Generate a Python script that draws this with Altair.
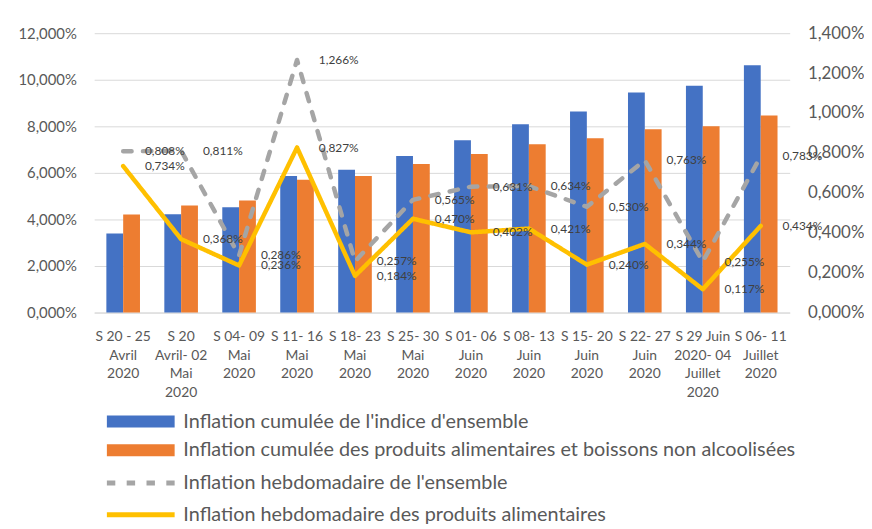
import altair as alt
import pandas as pd

weeks = [
    "S 20 - 25\nAvril\n2020",
    "S 20\nAvril- 02\nMai\n2020",
    "S 04- 09\nMai\n2020",
    "S 11- 16\nMai\n2020",
    "S 18- 23\nMai\n2020",
    "S 25- 30\nMai\n2020",
    "S 01- 06\nJuin\n2020",
    "S 08- 13\nJuin\n2020",
    "S 15- 20\nJuin\n2020",
    "S 22- 27\nJuin\n2020",
    "S 29 Juin\n2020- 04\nJuillet\n2020",
    "S 06- 11\nJuillet\n2020",
]
cum_all = [3.40, 4.22, 4.52, 5.87, 6.13, 6.72, 7.40, 8.09, 8.64, 9.45, 9.74, 10.62]
cum_food = [4.21, 4.60, 4.81, 5.70, 5.87, 6.38, 6.81, 7.23, 7.49, 7.87, 8.00, 8.47]
week_all = [0.808, 0.811, 0.286, 1.266, 0.257, 0.565, 0.631, 0.634, 0.530, 0.763, 0.255, 0.783]
week_food = [0.734, 0.368, 0.236, 0.827, 0.184, 0.470, 0.402, 0.421, 0.240, 0.344, 0.117, 0.434]

s1 = "Inflation cumulée de l'indice d'ensemble"
s2 = "Inflation cumulée des produits alimentaires et boissons non alcoolisées"
s3 = "Inflation hebdomadaire de l'ensemble"
s4 = "Inflation hebdomadaire des produits alimentaires"

left_ticks = [0, 2, 4, 6, 8, 10, 12]
right_ticks = [0, 0.2, 0.4, 0.6, 0.8, 1.0, 1.2, 1.4]

bars_df = pd.DataFrame(
    [{"week": w, "series": s1, "value": v} for w, v in zip(weeks, cum_all)]
    + [{"week": w, "series": s2, "value": v} for w, v in zip(weeks, cum_food)]
)
lines_df = pd.DataFrame(
    [{"week": w, "series": s3, "value": v} for w, v in zip(weeks, week_all)]
    + [{"week": w, "series": s4, "value": v} for w, v in zip(weeks, week_food)]
)

FONT = "Lato"
GREY = "#595959"
fmt = "replace(format(datum.value, '.3f'), '.', ',') + '%'"

x = alt.X(
    "week:N", sort=weeks, title=None,
    scale=alt.Scale(paddingInner=0.42, paddingOuter=0.21),
    axis=alt.Axis(
        labelExpr="split(datum.label, '\\n')", labelAngle=0, ticks=False,
        domainColor="#D9D9D9", labelColor=GREY, labelFont=FONT, labelFontSize=14,
        labelLineHeight=19, labelPadding=17, labelBaseline="top",
    ),
)

bar_legend = alt.Legend(
    orient="none", legendX=37, legendY=382, title=None, direction="vertical",
    symbolType="M-5.7,-1H5.7V1H-5.7Z", symbolSize=144, symbolStrokeWidth=0,
    labelFont=FONT, labelFontSize=20, labelColor=GREY, labelOffset=33,
    rowPadding=9, labelLimit=0,
)
line_legend = alt.Legend(
    orient="none", legendX=37, legendY=444, title=None, direction="vertical",
    symbolType="M-5.7,0H5.7", symbolSize=144, symbolStrokeWidth=5,
    symbolFillColor="transparent",
    labelFont=FONT, labelFontSize=20, labelColor=GREY, labelOffset=33,
    rowPadding=12, labelLimit=0,
)

bars = alt.Chart(bars_df).mark_bar().encode(
    x=x,
    xOffset=alt.XOffset("series:N", sort=[s1, s2]),
    y=alt.Y(
        "value:Q", title=None, scale=alt.Scale(domain=[0, 12], nice=False),
        axis=alt.Axis(
            values=left_ticks, labelExpr=fmt, ticks=False, domain=False,
            gridColor="#D9D9D9", labelFont=FONT, labelFontSize=15,
            labelColor=GREY, labelPadding=18, minExtent=82,
        ),
    ),
    fill=alt.Fill("series:N", scale=alt.Scale(domain=[s1, s2], range=["#4472C4", "#ED7D31"]),
                  legend=bar_legend),
)

y_right = alt.Y(
    "value:Q", title=None, scale=alt.Scale(domain=[0, 1.4], nice=False),
    axis=alt.Axis(
        orient="right", values=right_ticks, labelExpr=fmt, ticks=False, domain=False,
        grid=False, labelFont=FONT, labelFontSize=17, labelColor=GREY, labelPadding=18,
    ),
)

lines = alt.Chart(lines_df).mark_line(strokeWidth=4.5, strokeCap="round", strokeJoin="round").encode(
    x=x,
    y=y_right,
    stroke=alt.Stroke("series:N", scale=alt.Scale(domain=[s3, s4], range=["#A5A5A5", "#FFC000"]),
                      legend=line_legend),
    strokeDash=alt.StrokeDash("series:N", scale=alt.Scale(domain=[s3, s4], range=[[8.5, 11.5], [1, 0]]),
                              legend=line_legend),
)

texts = alt.Chart(lines_df).transform_calculate(
    label="replace(format(datum.value, '.3f'), '.', ',') + '%'"
).mark_text(align="left", baseline="middle", dx=22, font=FONT, fontSize=12, color="#404040").encode(
    x=x, y=y_right, text="label:N",
)

chart = alt.layer(bars, alt.layer(lines, texts)).resolve_scale(y="independent").properties(
    width=702, height=282, padding={"left": 5, "top": 14, "right": 0, "bottom": 0},
).configure_view(stroke=None)

chart.save("out.html", embed_options={"renderer": "svg", "actions": False})
